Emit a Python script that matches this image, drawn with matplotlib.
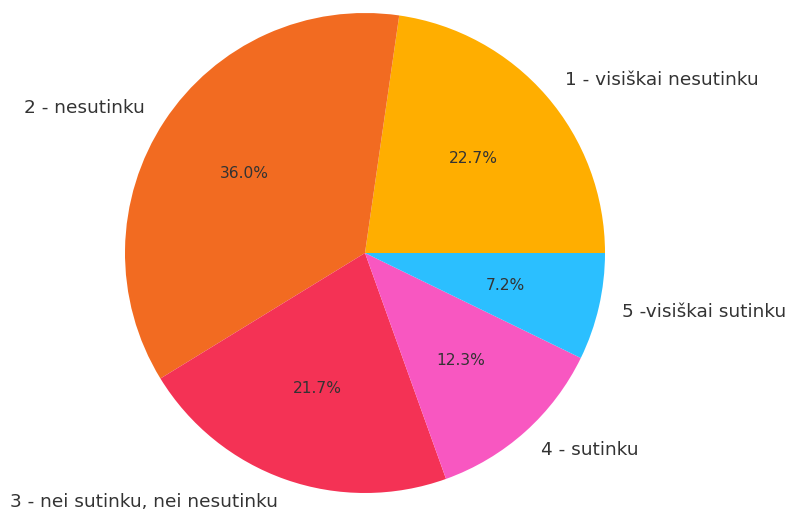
import matplotlib
matplotlib.use("Agg")
import matplotlib.pyplot as plt

labels = ["1 - visiškai nesutinku", "2 - nesutinku", "3 - nei sutinku, nei nesutinku",
          "4 - sutinku", "5 -visiškai sutinku"]
values = [22.7, 36.0, 21.7, 12.3, 7.2]
colors = ["#FFAE00", "#F26B21", "#F43255", "#F857C1", "#2BBFFF"]

fig = plt.figure(figsize=(7.89, 5.11), dpi=100)
W, H = 789, 511
cx, cy, r = 365, 253, 240
ax = fig.add_axes([(cx - r) / W, (H - cy - r) / H, 2 * r / W, 2 * r / H])
wedges, texts, autotexts = ax.pie(values, labels=labels, colors=colors, autopct="%1.1f%%",
                                  startangle=0, counterclock=True, radius=1,
                                  textprops={"color": "#333333", "fontsize": 13.3})
for t in autotexts:
    t.set_fontsize(11.2)
ax.set_xlim(-1, 1)
ax.set_ylim(-1, 1)
ax.set_aspect("equal")
fig.savefig("out.png", dpi=100)
